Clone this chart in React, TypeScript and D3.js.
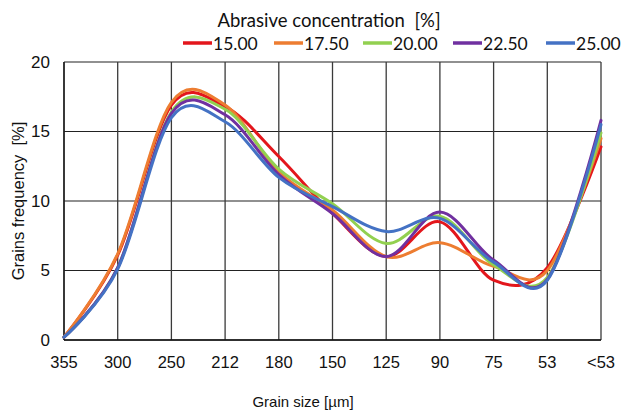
import React from "react";
import * as d3 from "d3";

const categories = ["355", "300", "250", "212", "180", "150", "125", "90", "75", "53", "<53"];
const seriesNames = ["15.00", "17.50", "20.00", "22.50", "25.00"];
const s15 = [0.2, 6.1, 16.9, 16.8, 13.2, 9.1, 6.0, 8.5, 4.3, 5.2, 13.9];
const s175 = [0.2, 6.2, 17.1, 16.9, 12.1, 9.35, 6.0, 7.0, 5.3, 5.0, 14.5];
const s20 = [0.2, 5.2, 16.4, 16.6, 12.3, 9.8, 6.95, 8.9, 5.4, 4.5, 14.9];
const s225 = [0.2, 5.2, 16.3, 16.2, 11.9, 9.1, 6.0, 9.2, 5.75, 4.35, 15.8];
const s25 = [0.2, 5.1, 16.0, 15.7, 11.7, 9.6, 7.8, 8.75, 5.6, 4.3, 15.5];
const seriesValues = [s15, s175, s20, s225, s25];
const colors = ["#E3161C", "#ED7D31", "#92D050", "#7030A0", "#4472C4"];
const yTicks = [0, 5, 10, 15, 20];

const W = 631, H = 410;
const left = 64, right = 601, top = 62, bottom = 340;

export default function App() {
  const x = d3.scalePoint<string>().domain(categories).range([left, right]);
  const y = d3.scaleLinear().domain([0, 20]).range([bottom, top]);
  const line = d3
    .line<number>()
    .x((_, i) => x(categories[i]) as number)
    .y((d) => y(d))
    .curve(d3.curveCardinal.tension(0));

  const legendX = [183, 274, 363, 453, 546];

  return (
    <svg width={W} height={H} style={{ position: "absolute", left: 0, top: 0, background: "#fff" }}>
      <rect x={0} y={0} width={W} height={H} fill="#fff" />
      {yTicks.map((t) => (
        <line key={"h" + t} x1={left} x2={right} y1={y(t)} y2={y(t)} stroke="#222" strokeWidth={1.2} />
      ))}
      {categories.map((c) => (
        <line key={"v" + c} x1={x(c)} x2={x(c)} y1={top} y2={bottom} stroke="#3a3a3a" strokeWidth={1.3} />
      ))}
      <line x1={left} x2={left} y1={top} y2={bottom} stroke="#111" strokeWidth={1.3} />
      <line x1={left} x2={right} y1={bottom} y2={bottom} stroke="#111" strokeWidth={1.3} />
      {yTicks.map((t) => (
        <text key={"yt" + t} x={50} y={y(t)} dy="0.35em" textAnchor="end" fontFamily="Liberation Sans, Arial" fontSize={17} fill="#111">
          {t}
        </text>
      ))}
      {categories.map((c) => (
        <text key={"xt" + c} x={x(c)} y={368} textAnchor="middle" fontFamily="Liberation Sans, Arial" fontSize={16.5} fill="#111">
          {c}
        </text>
      ))}
      {seriesValues.map((vals, i) => (
        <path key={"s" + i} d={line(vals) || ""} fill="none" stroke={colors[i]} strokeWidth={3} strokeLinejoin="round" strokeLinecap="round" />
      ))}
      <text x={329} y={27} textAnchor="middle" fontFamily="Lato, Noto Sans" fontSize={18.5} fill="#111" style={{ whiteSpace: "pre" }}>
        {"Abrasive concentration  [%]"}
      </text>
      {seriesNames.map((n, i) => (
        <g key={"lg" + i}>
          <line x1={legendX[i]} x2={legendX[i] + 29} y1={43} y2={43} stroke={colors[i]} strokeWidth={3.5} />
          <text x={legendX[i] + 30} y={50} fontFamily="Lato, Noto Sans" fontSize={17.5} fill="#111">
            {n}
          </text>
        </g>
      ))}
      <text x={303} y={407} textAnchor="middle" fontFamily="Liberation Sans, Arial" fontSize={15} fill="#111">
        Grain size [µm]
      </text>
      <text
        transform={`translate(24,${(top + bottom) / 2}) rotate(-90)`}
        textAnchor="middle"
        fontFamily="Liberation Sans, Arial"
        fontSize={16.5}
        fill="#111"
        style={{ whiteSpace: "pre" }}
      >
        {"Grains frequency  [%]"}
      </text>
    </svg>
  );
}
